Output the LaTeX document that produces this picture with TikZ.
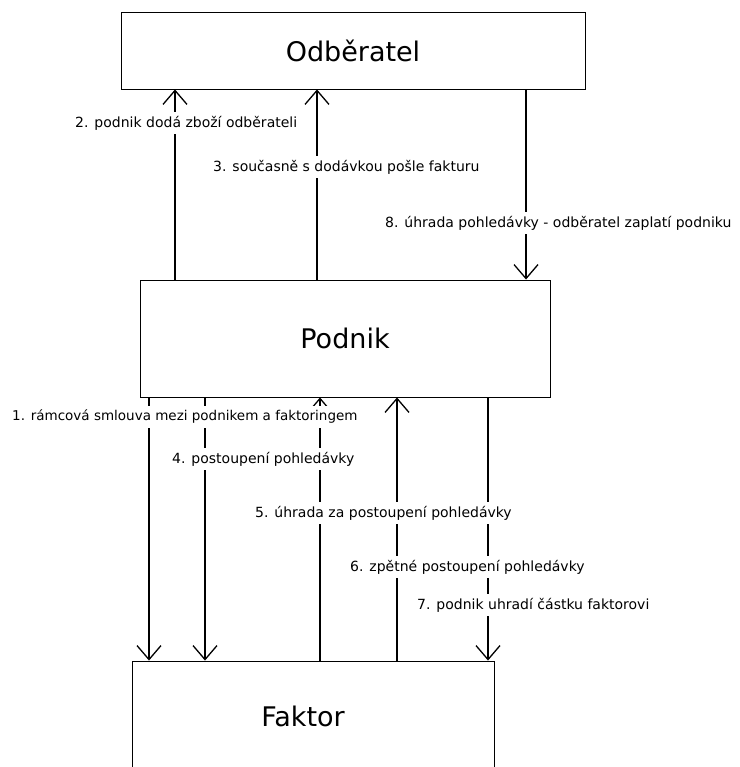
\documentclass[tikz,border=0pt]{standalone}
\usepackage{fontspec}
\setmainfont{DejaVu Sans}
\usetikzlibrary{arrows.meta}
\begin{document}
\begin{tikzpicture}[x=1pt,y=-1pt,
  box/.style={draw,line width=0.9pt,inner sep=0pt,font=\fontsize{27}{30}\selectfont},
  arr/.style={line width=1.8pt,-{Straight Barb[length=14pt,width=24pt,line width=1.3pt]}},
  lab/.style={fill=white,anchor=west,inner xsep=1pt,inner ysep=4pt,font=\fontsize{14}{17}\selectfont}]
\useasboundingbox (0,0) rectangle (739,767);
\clip (0,0) rectangle (739,767);
\node[box,minimum width=464pt,minimum height=77pt] (odb) at (353,50.5) {Odběratel};
\node[box,minimum width=410pt,minimum height=117pt] (pod) at (345,338.5) {Podnik};
\node[box,minimum width=362pt,minimum height=110pt] (fak) at (313,716) {Faktor\kern20pt\relax};
\foreach \n/\x in {a2/175,a3/317,a8/526,a1/149,a4/205,a5/320,a6/397,a7/488}
  \coordinate (\n) at (\x,0);
\draw[arr] (pod.north -| a2) -- (odb.south -| a2);
\draw[arr] (pod.north -| a3) -- (odb.south -| a3);
\draw[arr] (odb.south -| a8) -- (pod.north -| a8);
\draw[arr] (pod.south -| a1) -- (fak.north -| a1);
\draw[arr] (pod.south -| a4) -- (fak.north -| a4);
\draw[arr] (fak.north -| a5) -- (pod.south -| a5);
\draw[arr] (fak.north -| a6) -- (pod.south -| a6);
\draw[arr] (pod.south -| a7) -- (fak.north -| a7);
\node[lab] (l2) at (74,123) {2. podnik dodá zboží odběrateli};
\node[lab] (l3) at (212,167) {3. současně s dodávkou pošle fakturu};
\node[lab] (l8) at (384,223) {8. úhrada pohledávky - odběratel zaplatí podniku};
\node[lab,font=\fontsize{13.5}{17}\selectfont] (l1) at (11,417) {1. rámcová smlouva mezi podnikem a faktoringem};
\node[lab] (l4) at (171,459) {4. postoupení pohledávky};
\node[lab] (l5) at (254,513) {5. úhrada za postoupení pohledávky};
\node[lab] (l6) at (349,567) {6. zpětné postoupení pohledávky};
\node[lab] (l7) at (416,605) {7. podnik uhradí částku faktorovi};
\end{tikzpicture}
\end{document}
